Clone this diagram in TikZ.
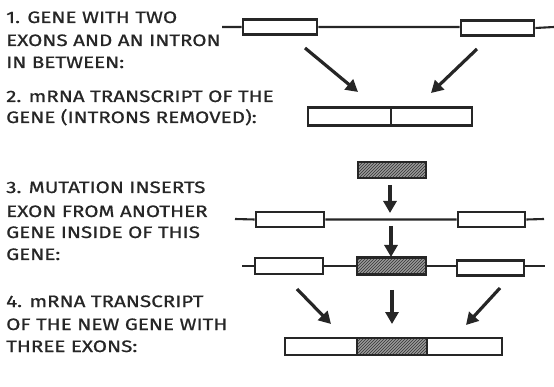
\documentclass[tikz,border=0pt]{standalone}
\usepackage{fontspec}
\setmainfont{Fira Sans}
\newfontfamily\handfont[FakeStretch=1.25,FakeBold=0.8]{Fira Sans}
\usetikzlibrary{arrows.meta,patterns}
\begin{document}
\begin{tikzpicture}[x=1pt,y=-1pt,
  exon/.style={draw=black!85,line width=2.6pt,fill=white,inner sep=0pt,minimum height=15pt},
  hatched/.style={draw=black!85,line width=2.6pt,inner sep=0pt,minimum height=16pt,
     preaction={fill=black!40},pattern=north east lines,pattern color=black!80},
  geneline/.style={draw=black!85,line width=2.1pt},
  bigarrow/.style={draw=black!85,line width=3.2pt,-{Triangle[width=13pt,length=12pt]}},
  label/.style={anchor=base west,inner sep=0pt,font=\handfont\fontsize{16.5}{20}\selectfont,text=black!85}]
\useasboundingbox (0,0) rectangle (554,387);
% labels
\node[label] (l1a) at (6,23) {1. GENE WITH TWO};
\node[label] (l1b) at (6,46) {EXONS AND AN INTRON};
\node[label] (l1c) at (6,68) {IN BETWEEN:};
\node[label] (l2a) at (6,102) {2. mRNA TRANSCRIPT OF THE};
\node[label] (l2b) at (6,123) {GENE (INTRONS REMOVED):};
\node[label] (l3a) at (6,193) {3. MUTATION INSERTS};
\node[label] (l3b) at (6,217) {EXON FROM ANOTHER};
\node[label] (l3c) at (6,238) {GENE INSIDE OF THIS};
\node[label] (l3d) at (6,260) {GENE:};
\node[label] (l4a) at (6,307) {4. mRNA TRANSCRIPT};
\node[label] (l4b) at (6,330) {OF THE NEW GENE WITH};
\node[label] (l4c) at (6,352) {THREE EXONS:};
% row 1: gene
\coordinate (g1s) at (222,27);
\coordinate (g1e) at (554,27);
\node[exon,minimum width=74pt] (a1) at (280,27) {};
\node[exon,minimum width=73pt] (a2) at (497.5,28) {};
\draw[geneline] (g1s) -- (a1.west) (a1.east) -- (a2.west|-a1.east) (a2.east) -- (g1e);
% row 2: mRNA
\node[exon,minimum width=83pt,minimum height=18pt] (m1) at (349.5,116.5) {};
\node[exon,minimum width=81pt,minimum height=18pt] (m2) at (431.5,116.5) {};
\coordinate (r1a) at (305,48); \coordinate (r1b) at (358,92);
\coordinate (r2a) at (477,49); \coordinate (r2b) at (431,93);
\draw[bigarrow] (r1a) -- (r1b);
\draw[bigarrow] (r2a) -- (r2b);
% inserted exon
\node[hatched,minimum width=68pt] (h0) at (392,170) {};
% row 3
\coordinate (g3s) at (235,219);
\coordinate (g3e) at (544,219);
\node[exon,minimum width=68pt] (c1) at (290,219.5) {};
\node[exon,minimum width=67pt] (c2) at (491.5,219.5) {};
\draw[geneline] (g3s) -- (c1.west) (c1.east) -- (c2.west) (c2.east) -- (g3e);
\coordinate (d1a) at (390,185); \coordinate (d1b) at (390,213);
\draw[bigarrow] (d1a) -- (d1b);
% row 4
\coordinate (g4s) at (242,266);
\coordinate (g4e) at (545,266);
\node[exon,minimum width=68pt,minimum height=16pt] (e1) at (289,266) {};
\node[hatched,minimum width=69pt,minimum height=17pt] (e2) at (391.5,266) {};
\node[exon,minimum width=67pt] (e3) at (490.5,268) {};
\draw[geneline] (g4s) -- (e1.west) (e1.east) -- (e2.west) (e2.east) -- (e3.west|-e2.east) (e3.east|-e2.east) -- (g4e);
\coordinate (d2a) at (391,226); \coordinate (d2b) at (391,257);
\draw[bigarrow] (d2a) -- (d2b);
% final mRNA
\node[exon,minimum width=72pt,minimum height=17pt] (f1) at (321,346.5) {};
\node[hatched,minimum width=70pt,minimum height=17pt] (f2) at (392,346.5) {};
\node[exon,minimum width=75pt,minimum height=17pt] (f3) at (464.5,346.5) {};
\coordinate (p1a) at (297,289); \coordinate (p1b) at (331,324);
\coordinate (p2a) at (392,290); \coordinate (p2b) at (392,324);
\coordinate (p3a) at (500,288); \coordinate (p3b) at (466,325);
\draw[bigarrow] (p1a) -- (p1b);
\draw[bigarrow] (p2a) -- (p2b);
\draw[bigarrow] (p3a) -- (p3b);
\end{tikzpicture}
\end{document}
